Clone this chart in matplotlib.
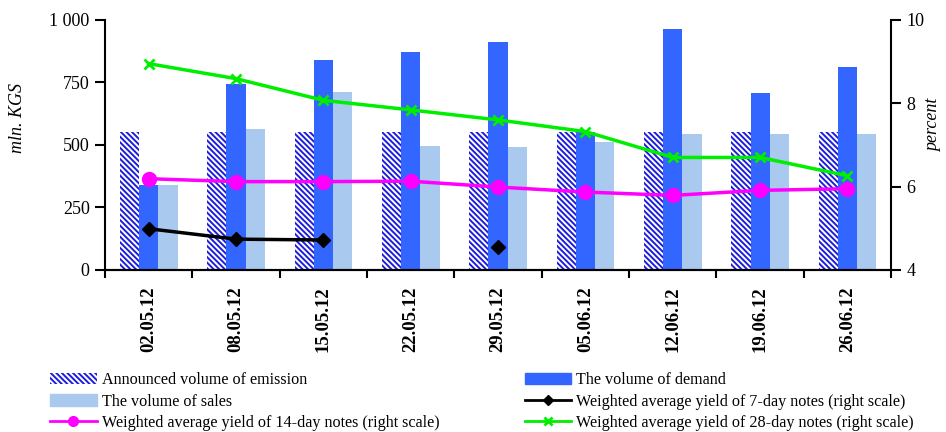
import numpy as np
import matplotlib
matplotlib.use("Agg")
import matplotlib.pyplot as plt
from matplotlib.patches import Patch
from matplotlib.lines import Line2D

plt.rcParams['font.family'] = ['Liberation Serif', 'DejaVu Serif']
plt.rcParams['hatch.linewidth'] = 1.4

dates = ["02.05.12", "08.05.12", "15.05.12", "22.05.12", "29.05.12",
         "05.06.12", "12.06.12", "19.06.12", "26.06.12"]
announced = [550, 550, 550, 550, 550, 550, 550, 550, 550]
demand = [340, 745, 840, 873, 913, 552, 962, 708, 813]
sales = [340, 565, 712, 497, 493, 513, 545, 545, 545]
yield7 = [4.99, 4.74, 4.72, np.nan, 4.54, np.nan, np.nan, np.nan, np.nan]
yield14 = [6.19, 6.12, 6.12, 6.13, 5.99, 5.87, 5.79, 5.91, 5.95]
yield28 = [8.95, 8.59, 8.07, 7.84, 7.60, 7.32, 6.70, 6.70, 6.26]

HATCH = '\\\\\\\\\\\\'
HCOL = '#1c1cdd'

fig = plt.figure(figsize=(9.46, 4.32), dpi=100)
ax = fig.add_axes([0.111, 0.375, 0.831, 0.579])
ax2 = ax.twinx()

x = np.arange(len(dates))
w = 0.22
ax.bar(x - w, announced, w, facecolor='white', edgecolor=HCOL, hatch=HATCH, linewidth=0)
ax.bar(x, demand, w, color='#3366FF', linewidth=0)
ax.bar(x + w, sales, w, color='#A9C9EE', linewidth=0)

ax2.plot(x, yield7, color='black', lw=2.5, marker='D', ms=7)
ax2.plot(x, yield14, color='#FF00FF', lw=2.5, marker='o', ms=10)
ax2.plot(x, yield28, color='#00EE00', lw=2.5, marker='x', ms=7, mew=2)

ax.set_xlim(-0.5, len(dates) - 0.5)
ax.set_ylim(0, 1000)
ax.set_yticks([0, 250, 500, 750, 1000])
ax.set_yticklabels(["0", "250", "500", "750", "1 000"], fontsize=13)
ax2.set_ylim(4, 10)
ax2.set_yticks([4, 6, 8, 10])
ax2.tick_params(axis='y', labelsize=13, length=7, width=1.5, direction='out', pad=4)
ax.tick_params(axis='y', length=7, width=1.5, direction='out', pad=4)

ax.set_xticks(x)
ax.set_xticklabels(dates, rotation=90, fontweight='bold', fontsize=13.5)
ax.set_xticks(np.arange(-0.5, len(dates)), minor=True)
ax.tick_params(axis='x', which='major', length=0, pad=12)
ax.tick_params(axis='x', which='minor', length=6, width=1.5, direction='out')

for a in (ax, ax2):
    a.spines['top'].set_visible(False)
    for s in ('left', 'right', 'bottom'):
        a.spines[s].set_linewidth(1.5)
ax2.spines['left'].set_visible(False)
ax.spines['right'].set_visible(False)

fig.text(17 / 946, 1 - 118 / 432, "mln. KGS", fontstyle='italic', fontsize=13,
         rotation=90, ha='center', va='center')
fig.text(934 / 946, 1 - 125 / 432, "percent", fontstyle='italic', fontsize=13,
         rotation=90, ha='center', va='center')

handles = [
    Patch(facecolor='white', edgecolor=HCOL, hatch=HATCH, linewidth=0),
    Patch(color='#A9C9EE'),
    Line2D([], [], color='#FF00FF', lw=2, marker='o', ms=7),
    Patch(color='#3366FF'),
    Line2D([], [], color='black', lw=2, marker='D', ms=5),
    Line2D([], [], color='#00EE00', lw=2, marker='x', ms=6, mew=2),
]
labels = [
    "Announced volume of emission",
    "The volume of sales",
    "Weighted average yield of 14-day notes (right scale)",
    "The volume of demand",
    "Weighted average yield of 7-day notes (right scale)",
    "Weighted average yield of 28-day notes (right scale)",
]
fig.legend(handles, labels, ncol=2, loc='upper left', bbox_to_anchor=(0.053, 0.138),
           frameon=False, fontsize=11.6, handlelength=2.9, handletextpad=0.3,
           columnspacing=5.3, labelspacing=0.33, borderaxespad=0, borderpad=0)

fig.savefig("out.png", dpi=100)
